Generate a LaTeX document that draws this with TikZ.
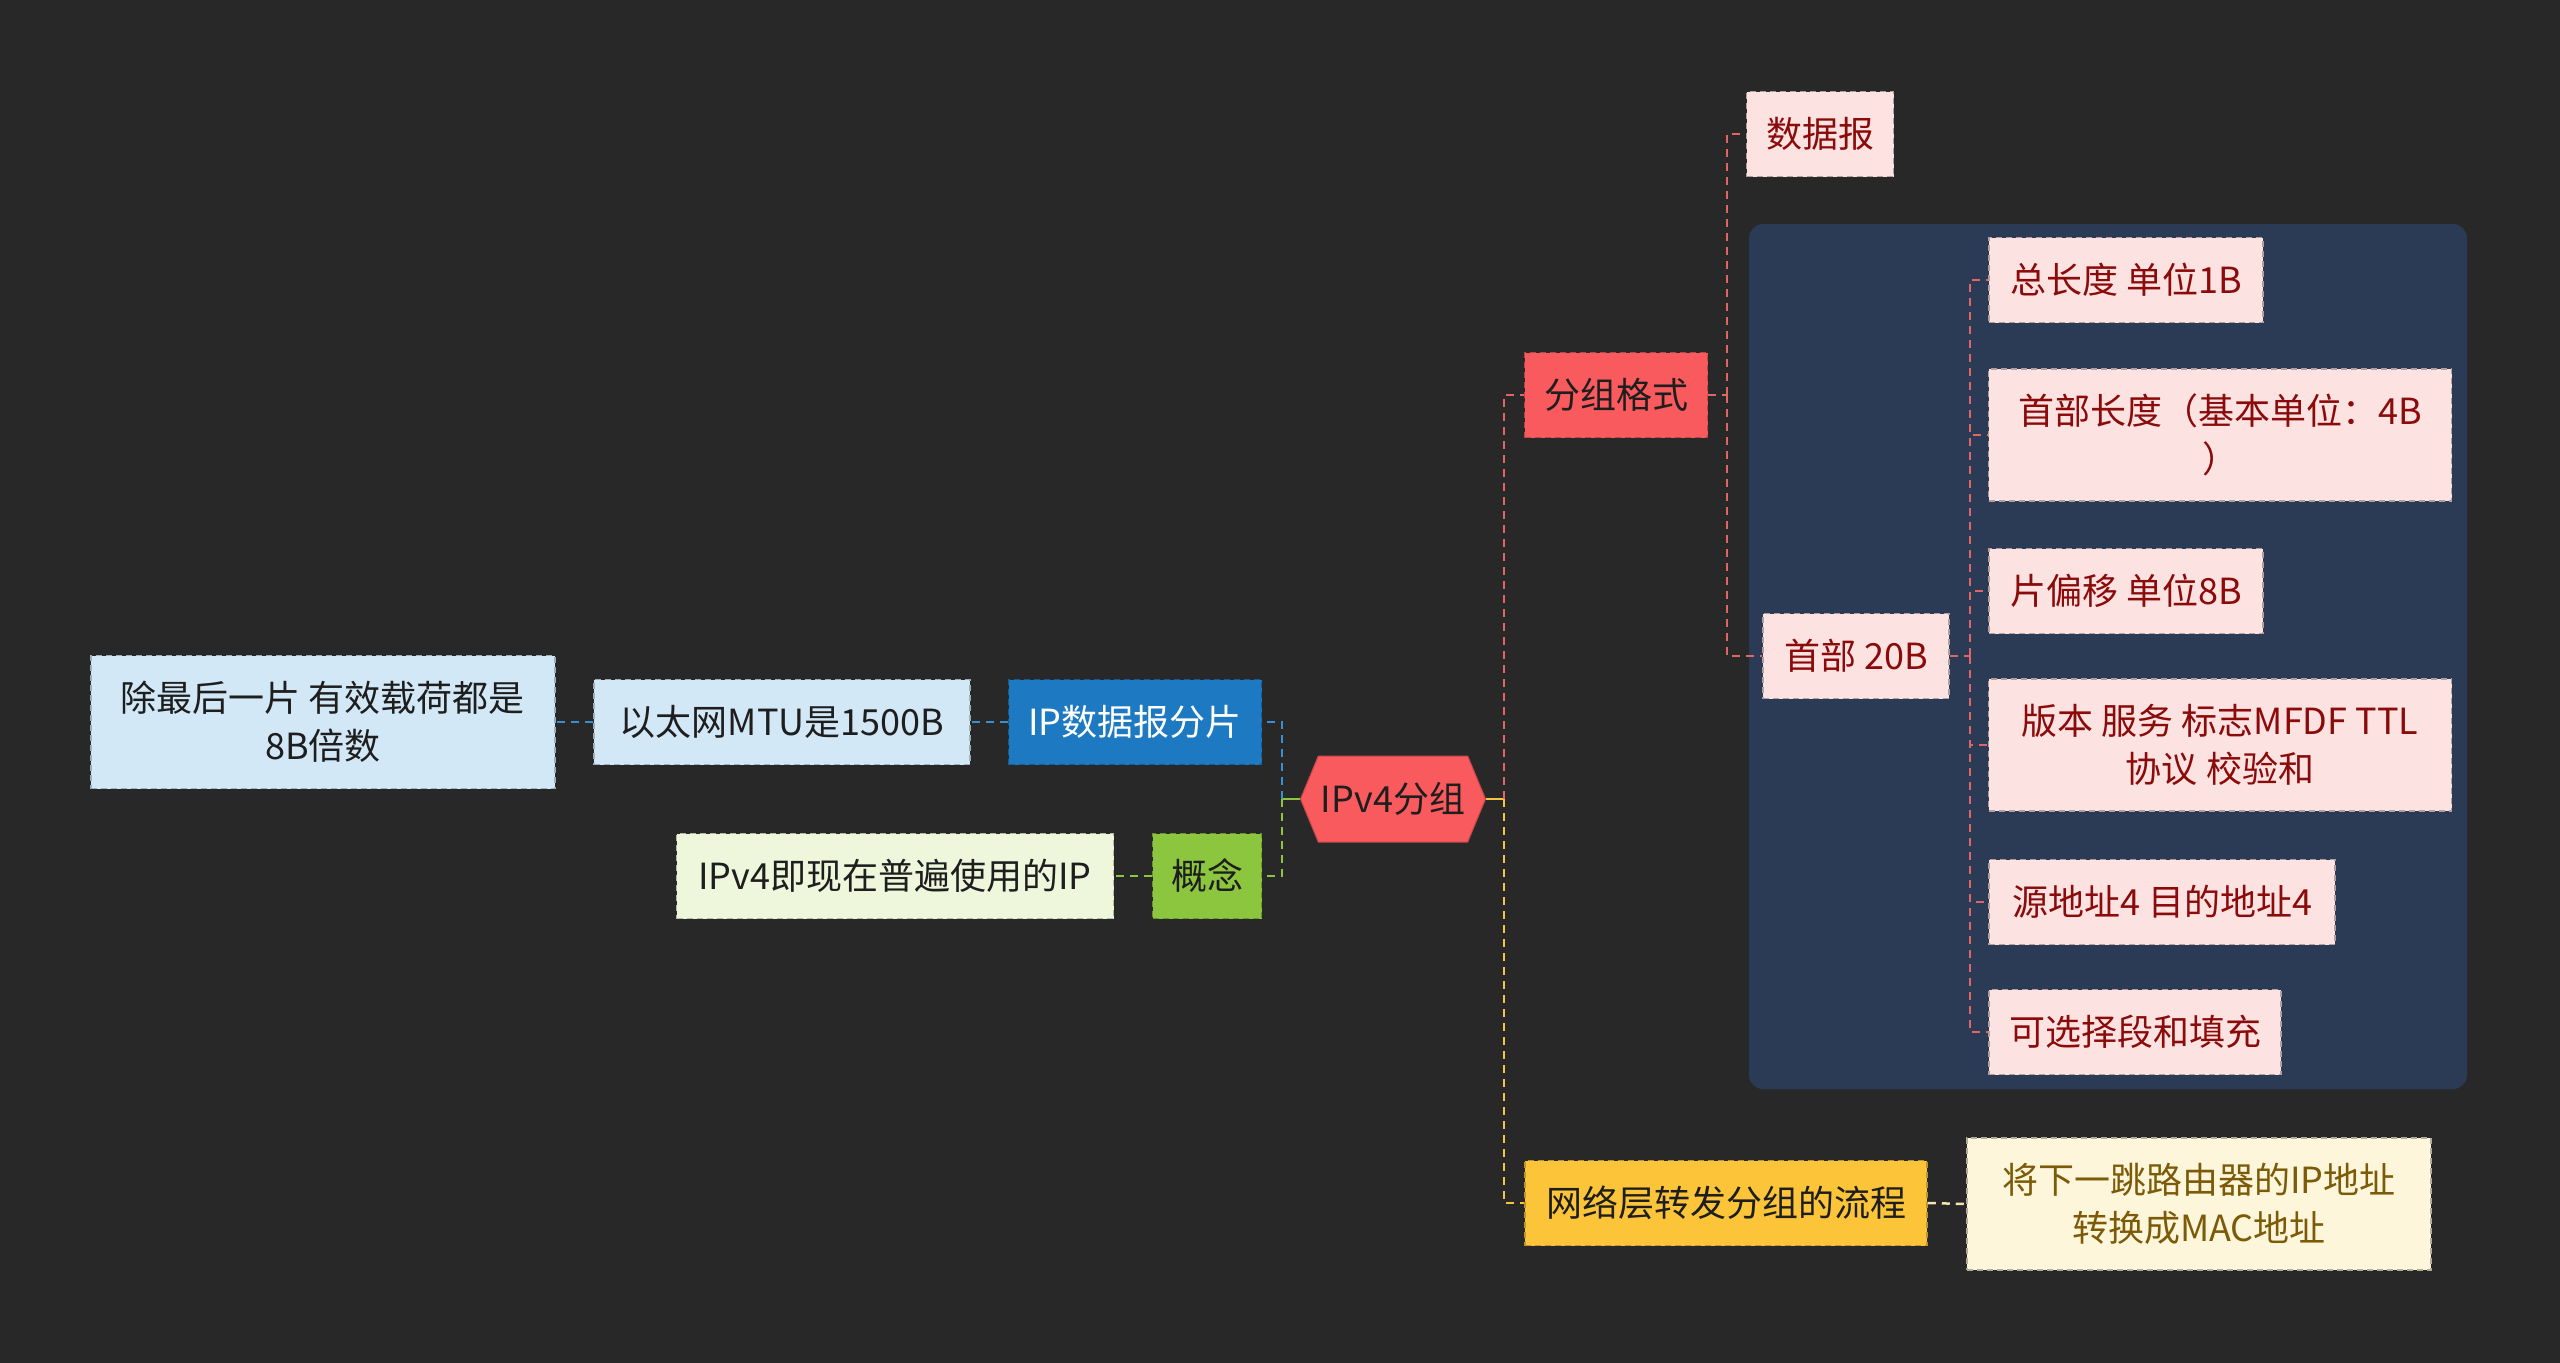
\documentclass[tikz,border=0pt]{standalone}
\usepackage{fontspec}
\setmainfont{Noto Sans CJK SC}
\usetikzlibrary{shapes.symbols,calc}

\definecolor{bgdark}{HTML}{282828}
\definecolor{panelnavy}{HTML}{2B3A55}
\definecolor{paleblue}{HTML}{D3E8F7}
\definecolor{deepblue}{HTML}{1D7AC2}
\definecolor{palegreen}{HTML}{EEF7DC}
\definecolor{leafgreen}{HTML}{8CC63F}
\definecolor{rootred}{HTML}{F85A5E}
\definecolor{palepink}{HTML}{FDE2E2}
\definecolor{sunyellow}{HTML}{FCC438}
\definecolor{palecream}{HTML}{FDF6DA}
\definecolor{inkdark}{HTML}{1E1E1E}
\definecolor{inkred}{HTML}{8B0A0A}
\definecolor{inkgold}{HTML}{7B5A08}
\definecolor{lnblue}{HTML}{3A8FD0}
\definecolor{lngreen}{HTML}{8CC63F}
\definecolor{lnred}{HTML}{E06666}
\definecolor{lnyellow}{HTML}{F5C542}
\definecolor{lncream}{HTML}{F3E4B0}

\begin{document}
\begin{tikzpicture}[x=1pt, y=-1pt,
    box/.style={rectangle, dash pattern=on 6pt off 4pt, line width=1.5pt, align=center, inner sep=0pt, minimum height=85pt, font=\fontsize{36}{48}\selectfont},
    blueleaf/.style={box, fill=paleblue, draw=paleblue!75!black, text=inkdark},
    bluetopic/.style={box, fill=deepblue, draw=deepblue!75!black, text=white},
    greenleaf/.style={box, fill=palegreen, draw=palegreen!75!black, text=inkdark},
    greentopic/.style={box, fill=leafgreen, draw=leafgreen!75!black, text=inkdark},
    redtopic/.style={box, fill=rootred, draw=rootred!75!black, text=inkdark},
    pinkleaf/.style={box, fill=palepink, draw=palepink!70!black, text=inkred},
    yellowtopic/.style={box, fill=sunyellow, draw=sunyellow!75!black, text=inkdark},
    creamleaf/.style={box, fill=palecream, draw=palecream!70!black, text=inkgold},
    link/.style={line width=2.5pt, dash pattern=on 8pt off 6pt},
    sublink/.style={line width=2pt, dash pattern=on 8pt off 6pt}
]

% Canvas
\useasboundingbox (0,0) rectangle (2560,1363);
\fill[bgdark] (0,0) rectangle (2560,1363);

% Header panel
\fill[panelnavy, rounded corners=14pt] (1749,224) rectangle (2467,1089);

% Root
\node[signal, signal to=west and east, signal pointer angle=135, fill=rootred, draw=rootred!80!black, line width=1pt, minimum width=185pt, minimum height=86pt, inner sep=0pt, text=inkdark, font=\fontsize{36}{48}\selectfont] (root) at (1393,799) {IPv4分组};

% Fragmentation branch
\node[bluetopic, minimum width=253pt] (frag) at (1135,722) {IP数据报分片};
\node[blueleaf, minimum width=376pt] (mtu) at (782,722) {以太网MTU是1500B};
\node[blueleaf, minimum width=464pt, minimum height=133pt] (last) at (323,722) {除最后一片 有效载荷都是\\8B倍数};

% Concept branch
\node[greentopic, minimum width=109pt] (concept) at (1207,876) {概念};
\node[greenleaf, minimum width=437pt] (ipnow) at (895,876) {IPv4即现在普遍使用的IP};

% Format branch
\node[redtopic, minimum width=183pt] (fmt) at (1616,395) {分组格式};
\node[pinkleaf, minimum width=147pt] (dgram) at (1820,134) {数据报};
\node[pinkleaf, minimum width=186pt] (head) at (1856,656) {首部 20B};

% Header fields
\node[pinkleaf, minimum width=274pt] (c1) at (2126,280) {总长度 单位1B};
\node[pinkleaf, minimum width=463pt, minimum height=132pt] (c2) at (2220,435) {首部长度（基本单位：4B\\）};
\node[pinkleaf, minimum width=274pt] (c3) at (2126,591) {片偏移 单位8B};
\node[pinkleaf, minimum width=463pt, minimum height=132pt] (c4) at (2220,745) {版本 服务 标志MFDF TTL\\协议 校验和};
\node[pinkleaf, minimum width=346pt] (c5) at (2162,902) {源地址4 目的地址4};
\node[pinkleaf, minimum width=292pt] (c6) at (2135,1032) {可选择段和填充};

% Forwarding branch
\node[yellowtopic, minimum width=402pt] (flow) at (1726,1203) {网络层转发分组的流程};
\node[creamleaf, minimum width=464pt, minimum height=132pt] (mac) at (2199,1204) {将下一跳路由器的IP地址\\转换成MAC地址};

% Left links
\coordinate (jl) at ($(root.west)+(-18,0)$);
\draw[link, solid, lngreen] (root.west) -- (jl);
\draw[link, lnblue] (jl) |- (frag.east);
\draw[link, lngreen] (jl) |- (concept.east);
\draw[link, lnblue] (frag.west) -- (mtu.east);
\draw[link, lnblue] (mtu.west) -- (last.east);
\draw[link, lngreen] (concept.west) -- (ipnow.east);

% Right links
\coordinate (jr) at ($(root.east)+(18,0)$);
\draw[link, solid, lnyellow] (root.east) -- (jr);
\draw[link, lnred] (jr) |- (fmt.west);
\draw[link, lnyellow] (jr) |- (flow.west);
\draw[link, lncream] (flow.east) -- (mac.west);

% Format links
\coordinate (jf) at ($(fmt.east)+(19,0)$);
\draw[sublink, lnred] (fmt.east) -- (jf);
\draw[sublink, lnred] (jf) |- (dgram.west);
\draw[sublink, lnred] (jf) |- (head.west);

% Header field links
\coordinate (jh) at ($(head.east)+(20,0)$);
\draw[sublink, lnred] (head.east) -- (jh);
\foreach \f in {c1,c2,c3,c4,c5,c6}
  \draw[sublink, lnred] (jh) |- (\f.west);

\end{tikzpicture}
\end{document}
